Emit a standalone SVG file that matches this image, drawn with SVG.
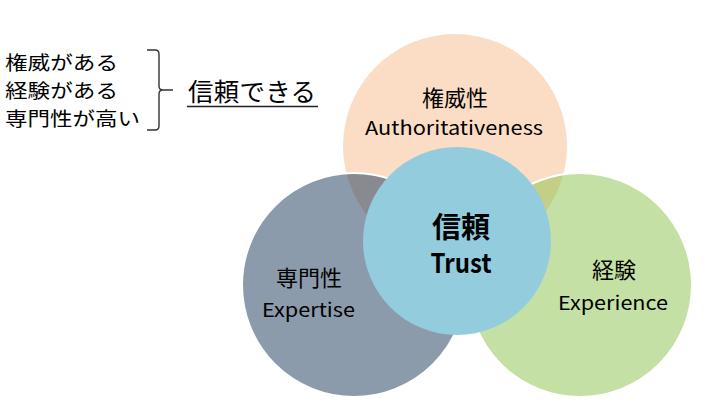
<svg xmlns="http://www.w3.org/2000/svg" width="712" height="411" viewBox="0 0 712 411">
<style>
text{font-family:"Noto Sans CJK JP","Noto Sans",sans-serif;fill:#000}
.jp{font-size:19.5px}
.lbl{font-size:22px;text-anchor:middle}
.en{font-size:19px;text-anchor:middle}
.big{font-weight:bold;text-anchor:middle}
.side{fill-opacity:0.5;stroke:#fff;stroke-width:2}
</style>
<rect width="712" height="411" fill="#fff"/>
<g id="list">
<text class="jp" x="5" y="69.5" textLength="113" lengthAdjust="spacingAndGlyphs">権威がある</text>
<text class="jp" x="5" y="97.5" textLength="113" lengthAdjust="spacingAndGlyphs">経験がある</text>
<text class="jp" x="5" y="125.5" textLength="135" lengthAdjust="spacingAndGlyphs">専門性が高い</text>
</g>
<g id="brace">
<path d="M147,50 H155 Q159,50 159,54 V86 Q159,90 163,90 H173 M163,90 Q159,90 159,94 V126 Q159,130 155,130 H147" fill="none" stroke="#333" stroke-width="1.4"/>
</g>
<g id="conclusion">
<text x="188" y="101" font-size="25.5px" textLength="128">信頼できる</text>
<line x1="187" y1="106.5" x2="318" y2="106.5" stroke="#222" stroke-width="1.5"/>
</g>
<g id="authority">
<circle cx="455" cy="146" r="112" fill="#fbddc5"/>
<text class="lbl" x="455" y="106">権威性</text>
<text class="en" x="454" y="135" textLength="178" lengthAdjust="spacingAndGlyphs">Authoritativeness</text>
</g>
<g id="expertise">
<circle class="side" cx="354" cy="285" r="112" fill="rgb(23,55,89)"/>
<text class="lbl" x="309" y="286">専門性</text>
<text class="en" x="308.5" y="317" textLength="93" lengthAdjust="spacingAndGlyphs">Expertise</text>
</g>
<g id="experience">
<circle class="side" cx="580" cy="285" r="112" fill="rgb(139,193,73)"/>
<text class="lbl" x="614" y="278">経験</text>
<text class="en" x="613" y="310" textLength="110" lengthAdjust="spacingAndGlyphs">Experience</text>
</g>
<g id="trust">
<circle cx="457" cy="241" r="94" fill="#93cddd"/>
<text class="big" x="461" y="238" font-size="29px">信頼</text>
<text class="big" x="461" y="273" font-size="27px" textLength="61" lengthAdjust="spacingAndGlyphs">Trust</text>
</g>
<g id="connectors"></g>
</svg>
